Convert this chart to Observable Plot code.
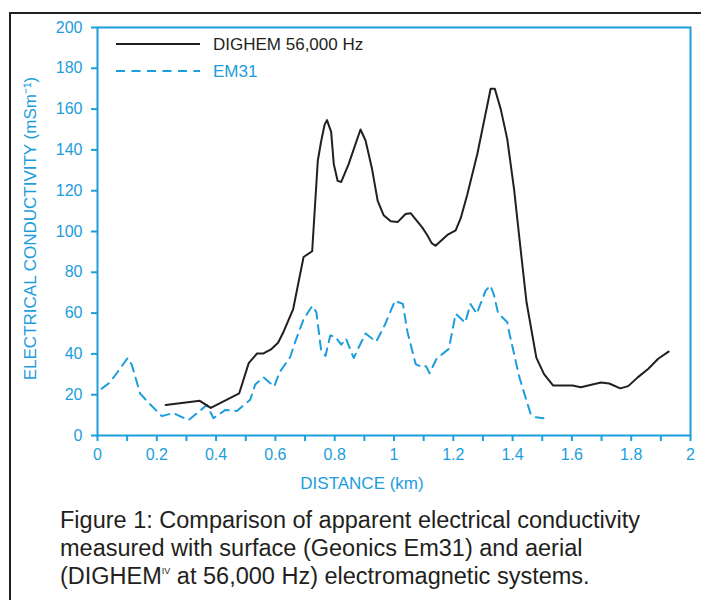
<!DOCTYPE html>
<html><head><meta charset="utf-8">
<script src="https://cdn.jsdelivr.net/npm/d3@7"></script>
<script src="https://cdn.jsdelivr.net/npm/@observablehq/plot@0.6"></script>
<style>
body{margin:0;background:#fff;}
#wrap{position:relative;width:701px;height:600px;overflow:hidden;font-family:"Liberation Sans",Arial,sans-serif;background:#fff;}
#border{position:absolute;left:9px;top:12px;width:800px;height:700px;border-left:2px solid #231f20;border-top:2px solid #231f20;}
#chart{position:absolute;left:0;top:0;}
#legend{position:absolute;left:0;top:0;}
#caption{position:absolute;left:60px;top:506px;font-size:23.5px;line-height:28px;color:#231f20;white-space:nowrap;}
#caption sup{font-size:9px;line-height:0;vertical-align:10px;}
</style></head>
<body><div id="wrap"><div id="border"></div><div id="chart"></div><svg id="legend" width="701" height="90"></svg>
<div id="caption">Figure 1: Comparison of apparent electrical conductivity<br>measured with surface (Geonics Em31) and aerial<br>(DIGHEM<sup>IV</sup> at 56,000 Hz) electromagnetic systems.</div></div>
<script>
const BLUE = "#1c9ddc";
const INK = "#231f20";
const seriesNames = ["DIGHEM 56,000 Hz", "EM31"];
const xLabel = "DISTANCE (km)";
const yLabel = "ELECTRICAL CONDUCTIVITY (mSm\u207B\u00B9)";

const dighemDistance = [0.23,0.345,0.382,0.478,0.51,0.538,0.56,0.585,0.609,0.628,0.66,0.695,0.724,0.743,0.754,0.766,0.774,0.788,0.797,0.81,0.822,0.847,0.887,0.904,0.926,0.945,0.965,0.989,1.013,1.039,1.056,1.095,1.112,1.127,1.14,1.18,1.208,1.225,1.247,1.281,1.326,1.34,1.36,1.382,1.405,1.428,1.447,1.48,1.506,1.537,1.602,1.63,1.698,1.726,1.763,1.79,1.822,1.857,1.891,1.926];
const dighemConductivity = [15,17,13.5,20.7,35.5,40.2,40.2,42.2,45.5,51,62,87.5,90.3,134.7,144,152.4,154.6,148.8,133,124.8,124.3,133,150,144.6,130.6,115,108,105,104.7,108.6,109,102,98.3,94.3,93,98.3,100.5,106.5,118,138,170,170,160,145.3,120.6,90,65.3,38.2,30.1,24.5,24.5,23.7,26,25.5,23.1,24.2,28.5,32.6,37.6,41.1];

const em31Distance = [0.014,0.042,0.102,0.116,0.144,0.166,0.217,0.256,0.307,0.369,0.391,0.431,0.47,0.515,0.532,0.56,0.596,0.614,0.65,0.667,0.695,0.724,0.738,0.754,0.769,0.785,0.802,0.822,0.838,0.864,0.887,0.904,0.94,0.97,1.003,1.03,1.045,1.073,1.095,1.108,1.12,1.143,1.185,1.208,1.24,1.258,1.279,1.309,1.325,1.337,1.351,1.382,1.388,1.422,1.461,1.478,1.504];
const em31Conductivity = [23,26,38,34.5,20.5,17,9.5,11,7.5,15,8.5,12.5,12,17.5,25,28.5,24,31,38.5,46,57,63.5,60.5,42,39,49,48.5,44.5,47.5,38,45,50,46,54.5,66,64.5,51,35,33.5,34,30.5,37.5,42.5,59.7,55.3,64.5,59.7,71,73.5,69,60,55.5,51,29,10.5,9,8.5];

const xTicks = d3.range(0, 21).map(i => i / 10);
const yTicks = d3.range(0, 201, 20);

const dighem = dighemDistance.map((d, i) => ({d, c: dighemConductivity[i]}));
const em31 = em31Distance.map((d, i) => ({d, c: em31Conductivity[i]}));

const chart = Plot.plot({
  width: 701, height: 500,
  marginLeft: 97, marginRight: 11, marginTop: 27, marginBottom: 65,
  x: {domain: [0, 2]},
  y: {domain: [0, 200]},
  style: {color: BLUE, fontFamily: '"Liberation Sans", Arial, sans-serif', fontSize: "16px", background: "transparent"},
  marks: [
    Plot.axisX({ticks: xTicks, tickFormat: d => (Math.round(d * 10) % 2 === 0 ? String(+d.toFixed(1)) : ""), tickSize: 6, tickPadding: 7, strokeWidth: 2, label: null}),
    Plot.axisY({ticks: yTicks, tickSize: 6, tickPadding: 9, strokeWidth: 2, label: null}),
    Plot.line(em31, {x: "d", y: "c", stroke: BLUE, strokeWidth: 2, strokeDasharray: "9,6.5"}),
    Plot.line(dighem, {x: "d", y: "c", stroke: INK, strokeWidth: 2}),
    Plot.frame({stroke: BLUE, strokeWidth: 2}),
    Plot.text([xLabel], {text: d => d, frameAnchor: "bottom", lineAnchor: "middle", textAnchor: "middle", dx: -32, dy: 48, fill: BLUE, fontSize: 17}),
    Plot.text([yLabel], {text: d => d, frameAnchor: "left", lineAnchor: "middle", textAnchor: "middle", rotate: -90, dx: -67, dy: -3, fill: BLUE, fontSize: 17})
  ]
});
document.getElementById("chart").appendChild(chart);

// legend
const lg = d3.select("#legend");
const legendStyles = [
  {name: seriesNames[0], stroke: INK, dash: null, text: INK},
  {name: seriesNames[1], stroke: BLUE, dash: "9,6.5", text: BLUE}
];
legendStyles.forEach((s, i) => {
  const y = 44 + i * 27;
  lg.append("line").attr("x1", 116).attr("x2", 200).attr("y1", y).attr("y2", y)
    .attr("stroke", s.stroke).attr("stroke-width", 2).attr("stroke-dasharray", s.dash);
  lg.append("text").attr("x", 213).attr("y", y).attr("dy", "0.35em")
    .attr("fill", s.text).attr("font-size", 17).attr("font-family", '"Liberation Sans", Arial, sans-serif')
    .text(s.name);
});
</script>
</body></html>
